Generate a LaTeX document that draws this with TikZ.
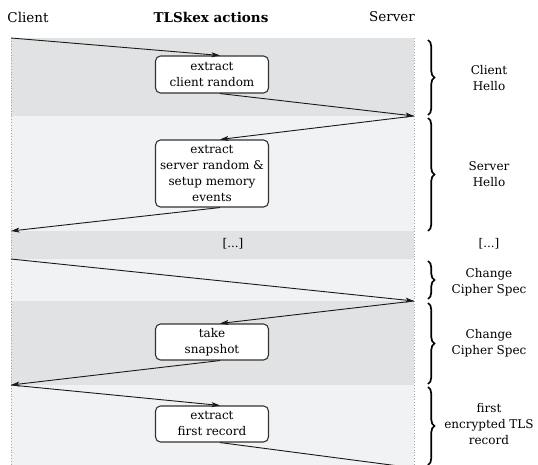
\documentclass[tikz,border=0pt]{standalone}
\usepackage{fontspec}
\setmainfont{DejaVu Serif}
\usetikzlibrary{decorations.pathreplacing,arrows.meta}

\definecolor{banddark}{HTML}{E1E2E4}
\definecolor{bandlight}{HTML}{F1F2F4}
\definecolor{boxline}{HTML}{333333}

\begin{document}
\begin{tikzpicture}[x=1pt,y=-1pt,
  every node/.style={font=\fontsize{12}{16}\selectfont},
  header/.style={font=\fontsize{13.5}{16}\selectfont},
  lifeline/.style={draw=gray!70, line width=0.8pt, dotted},
  msg/.style={draw=black!90, line width=0.9pt, -{Stealth[length=8.5pt,width=5pt,inset=2pt]}},
  msgplain/.style={draw=black!90, line width=0.9pt},
  action/.style={draw=boxline, line width=1.1pt, fill=white, rounded corners=5pt,
    minimum width=113pt, align=center, inner sep=1pt},
  phase/.style={decorate, decoration={brace, amplitude=6.5pt}, line width=1.7pt},
  side/.style={align=center}]
\useasboundingbox (0,0) rectangle (538,465);
\clip (0,0) rectangle (538,465);

% phase bands
\fill[banddark]  (11,38)  rectangle (414,116);
\fill[bandlight] (11,116) rectangle (414,231);
\fill[banddark]  (11,231) rectangle (414,259);
\fill[bandlight] (11,259) rectangle (414,301);
\fill[banddark]  (11,301) rectangle (414,385);
\fill[bandlight] (11,385) rectangle (414,470);

% lifelines
\coordinate (ctop) at (11,38);
\coordinate (cbot) at (11,470);
\coordinate (stop) at (414,38);
\coordinate (sbot) at (414,470);
\draw[lifeline] (ctop) -- (cbot);
\draw[lifeline] (stop) -- (sbot);

% headers
\node[header] (hclient) at (28,17) {Client};
\node[header, font=\fontsize{13.5}{16}\selectfont\bfseries] (hkex) at (211,17) {TLSkex actions};
\node[header] (hserver) at (392,17) {Server};

% message end points on the lifelines
\coordinate (c1) at (11,38);
\coordinate (s1) at (414,116);
\coordinate (c2) at (11,231);
\coordinate (c3) at (11,259);
\coordinate (s2) at (414,301);
\coordinate (c4) at (11,385);
\coordinate (s3) at (414,468);

% actions
\node[action, minimum height=37pt] (b1) at (212,74.5) {extract\\client random};
\node[action, minimum height=67pt] (b2) at (212,173.5) {extract\\server random \&\\setup memory\\events};
\node[action, minimum height=36pt] (b3) at (212,342) {take\\snapshot};
\node[action, minimum height=36pt] (b4) at (212,424) {extract\\first record};

\node (gapmid) at (233,244) {[...]};

% messages
\draw[msg] (c1) -- ([xshift=8pt]b1.north);
\draw[msg] ([xshift=8pt]b1.south) -- (s1);
\draw[msg] (s1) -- ([xshift=8pt]b2.north);
\draw[msg] ([xshift=8pt]b2.south) -- (c2);
\draw[msg] (c3) -- (s2);
\draw[msg] (s2) -- ([xshift=8pt]b3.north);
\draw[msg] ([xshift=8pt]b3.south) -- (c4);
\draw[msg] (c4) -- ([xshift=8pt]b4.north);
\draw[msgplain] ([xshift=8pt]b4.south) -- (s3);

% phase braces and labels
\coordinate (p1a) at (428,40);  \coordinate (p1b) at (428,115);
\coordinate (p2a) at (428,118); \coordinate (p2b) at (428,231);
\coordinate (p3a) at (428,261); \coordinate (p3b) at (428,299);
\coordinate (p4a) at (428,303); \coordinate (p4b) at (428,384);
\coordinate (p5a) at (428,387); \coordinate (p5b) at (428,465);
\draw[phase] (p1a) -- (p1b);
\draw[phase] (p2a) -- (p2b);
\draw[phase] (p3a) -- (p3b);
\draw[phase] (p4a) -- (p4b);
\draw[phase] (p5a) -- (p5b);

\node[side] (l1) at (489,78) {Client\\Hello};
\node[side] (l2) at (489,174) {Server\\Hello};
\node[side] (lgap) at (489,244) {[...]};
\node[side] (l3) at (489,282) {Change\\Cipher Spec};
\node[side] (l4) at (489,343) {Change\\Cipher Spec};
\node[side] (l5) at (489,424) {first\\encrypted TLS\\record};
\end{tikzpicture}
\end{document}
